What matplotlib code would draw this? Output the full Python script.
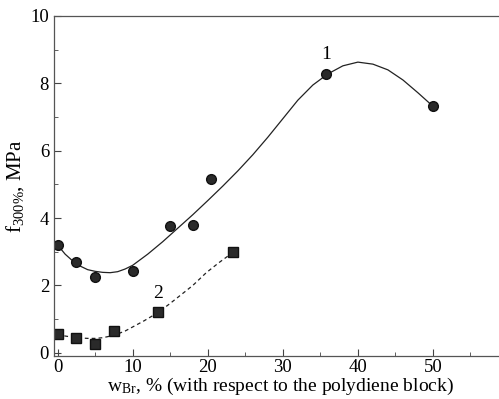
import numpy as np
import matplotlib
matplotlib.use("Agg")
import matplotlib.pyplot as plt
from matplotlib.ticker import MultipleLocator

plt.rcParams["font.family"] = ["Liberation Serif", "DejaVu Serif"]
plt.rcParams["mathtext.fontset"] = "custom"
plt.rcParams["mathtext.rm"] = "Liberation Serif"
plt.rcParams["mathtext.it"] = "Liberation Serif"

# series 1 (circles) measured points
w1 = [0, 2.5, 5, 10, 15, 18, 20.4, 35.8, 50]
f1 = [3.2, 2.7, 2.24, 2.44, 3.78, 3.8, 5.17, 8.27, 7.32]
# smooth curve 1
c1_x = [0, 1, 2.5, 4, 5, 6, 7, 8, 9, 10, 12, 14, 16, 18, 20, 22, 24, 26,
        28, 30, 32, 34, 36, 38, 40, 42, 44, 46, 48, 50]
c1_y = [3.2, 2.93, 2.63, 2.47, 2.42, 2.39, 2.38, 2.41, 2.49, 2.6, 2.93, 3.3,
        3.7, 4.1, 4.52, 4.95, 5.4, 5.88, 6.4, 6.95, 7.5, 7.95, 8.28, 8.52,
        8.63, 8.57, 8.4, 8.1, 7.72, 7.32]

# series 2 (squares) measured points
w2 = [0, 2.5, 5, 7.5, 13.4, 23.4]
f2 = [0.56, 0.44, 0.27, 0.66, 1.2, 3.0]
# dashed curve 2
c2_x = [0, 1, 2.5, 4, 5, 6, 7.5, 9, 10, 11.5, 13.4, 15, 16.7, 18, 19.8,
        21.5, 23.4]
c2_y = [0.55, 0.5, 0.45, 0.43, 0.43, 0.45, 0.52, 0.65, 0.77, 0.95, 1.2,
        1.47, 1.77, 2.0, 2.38, 2.68, 2.99]

fig = plt.figure(figsize=(4.99, 3.99), dpi=100)
ax = fig.add_axes([0.108, 0.108, 0.892, 0.852])

ax.plot(c1_x, c1_y, color="#222222", lw=0.9)
ax.plot(c2_x, c2_y, color="#222222", lw=0.9, ls=(0, (3, 2.5)))
ax.plot(w1, f1, "o", color="#2a2a2a", ms=7, mec="#111111")
ax.plot(w2, f2, "s", color="#2a2a2a", ms=6.5, mec="#111111")

ax.text(35.8, 8.85, "1", fontsize=14, ha="center", va="center")
ax.text(13.4, 1.75, "2", fontsize=14, ha="center", va="center")

ax.set_xlim(-0.5, 58.8)
ax.set_ylim(-0.09, 10)
ax.xaxis.set_major_locator(MultipleLocator(10))
ax.xaxis.set_minor_locator(MultipleLocator(5))
ax.yaxis.set_major_locator(MultipleLocator(2))
ax.yaxis.set_minor_locator(MultipleLocator(1))
ax.tick_params(which="both", direction="in", labelsize=13.5, color="#444444")
ax.tick_params(which="major", length=5)
ax.tick_params(which="minor", length=3)
ax.tick_params(axis="x", pad=2)
ax.spines["right"].set_visible(False)
for s in ("left", "bottom", "top"):
    ax.spines[s].set_color("#555555")
    ax.spines[s].set_linewidth(0.9)

ax.set_xlabel(r"w$_{\mathrm{Br}}$, % (with respect to the polydiene block)",
              fontsize=14, labelpad=0)
ax.xaxis.set_label_coords(0.51, -0.058)
ax.set_ylabel(r"f$_{\mathrm{300\%}}$, MPa", fontsize=15, labelpad=3)

fig.savefig("out.png", dpi=100)
